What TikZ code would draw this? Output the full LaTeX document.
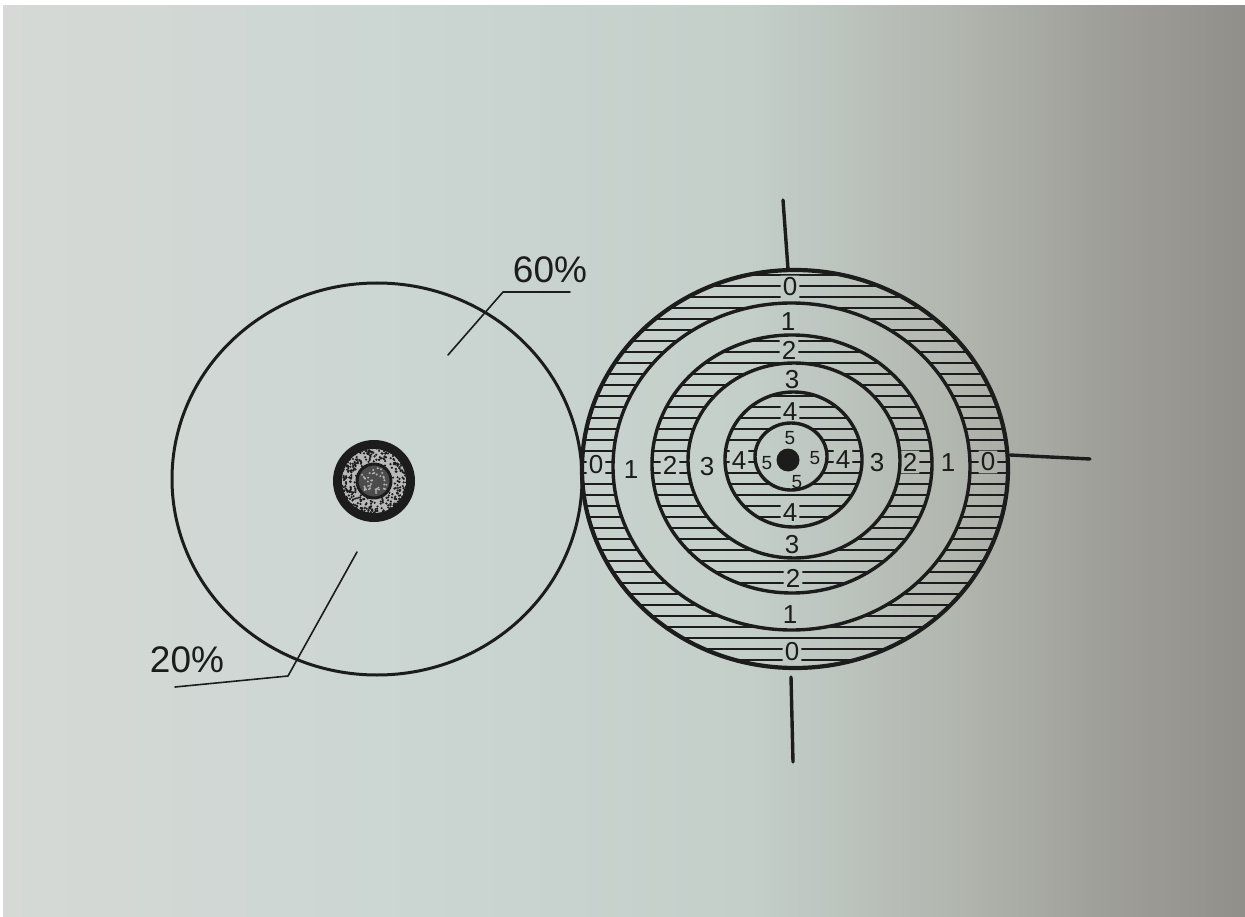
\documentclass[tikz,border=0pt]{standalone}
\usepackage{fontspec}
\setmainfont{Liberation Sans}
\usetikzlibrary{calc}
\definecolor{inkc}{RGB}{28,28,28}
\definecolor{bgA}{RGB}{214,217,213}
\definecolor{bgB}{RGB}{204,214,211}
\definecolor{bgC}{RGB}{196,207,202}
\definecolor{bgD}{RGB}{178,183,175}
\definecolor{bgE}{RGB}{160,160,154}
\definecolor{bgF}{RGB}{145,143,138}
\pgfdeclarehorizontalshading{paper}{100bp}{color(0bp)=(bgA); color(25bp)=(bgA); color(40bp)=(bgB); color(55bp)=(bgC); color(63bp)=(bgD); color(69bp)=(bgE); color(75bp)=(bgF); color(100bp)=(bgF)}
\begin{document}
\begin{tikzpicture}[x=1pt,y=-1pt,line cap=round,line join=round,
  ringline/.style={draw=inkc,line width=3.4pt},
  hatchline/.style={draw=inkc,line width=1.2pt},
  thinline/.style={draw=inkc,line width=1.6pt},
  lbl/.style={text=inkc,font=\fontsize{26}{26}\selectfont,inner sep=2pt},
  lbls/.style={text=inkc,font=\fontsize{19}{19}\selectfont,inner sep=1.5pt},
  pct/.style={text=inkc,font=\fontsize{37}{37}\selectfont,inner sep=0pt}]
\useasboundingbox (0,0) rectangle (1245,917);
\fill[white] (0,0) rectangle (1245,917);
\shade[shading=paper] (3,6) rectangle (1245,917);

% ---- ring labels ----
\node[lbl] (l0t) at (790,287) {0};
\node[lbl] (l0b) at (792,652) {0};
\node[lbl] (l0l) at (596,465) {0};
\node[lbl] (l0r) at (988,462) {0};
\node[lbl] (l1t) at (788,322) {1};
\node[lbl] (l1b) at (790,615) {1};
\node[lbl] (l1l) at (631,470) {1};
\node[lbl] (l1r) at (948,463) {1};
\node[lbl] (l2t) at (789,350) {2};
\node[lbl] (l2b) at (793,578) {2};
\node[lbl] (l2l) at (670,465) {2};
\node[lbl] (l2r) at (910,462) {2};
\node[lbl] (l3t) at (792,380) {3};
\node[lbl] (l3b) at (792,545) {3};
\node[lbl] (l3l) at (707,467) {3};
\node[lbl] (l3r) at (877,463) {3};
\node[lbl] (l4t) at (790,412) {4};
\node[lbl] (l4b) at (790,513) {4};
\node[lbl] (l4l) at (739,461) {4};
\node[lbl] (l4r) at (843,460) {4};
\node[lbls] (l5t) at (790,438) {5};
\node[lbls] (l5b) at (797,482) {5};
\node[lbls] (l5l) at (767,463) {5};
\node[lbls] (l5r) at (815,458) {5};

% ---- hatching of rings 0, 2, 4 ----
\begin{scope}[even odd rule]
\clip (795,469) ellipse (213 and 199) (791.5,466.5) ellipse (178.5 and 163.5)
  (l0t.south west) rectangle (l0t.north east) (l0b.south west) rectangle (l0b.north east)
  (l0l.south west) rectangle (l0l.north east) (l0r.south west) rectangle (l0r.north east);
\foreach \yy in {264,275,...,680} \draw[hatchline] (570,\yy) -- (1020,\yy);
\end{scope}
\begin{scope}[even odd rule]
\clip (792,464) ellipse (140 and 129) (794,460.5) ellipse (106 and 97.5)
  (l2t.south west) rectangle (l2t.north east) (l2b.south west) rectangle (l2b.north east)
  (l2l.south west) rectangle (l2l.north east) (l2r.south west) rectangle (l2r.north east);
\foreach \yy in {264,275,...,680} \draw[hatchline] (570,\yy) -- (1020,\yy);
\end{scope}
\begin{scope}[even odd rule]
\clip (793.5,459.5) ellipse (68.5 and 67.5) (791,456.5) ellipse (36 and 33.5)
  (l4t.south west) rectangle (l4t.north east) (l4b.south west) rectangle (l4b.north east)
  (l4l.south west) rectangle (l4l.north east) (l4r.south west) rectangle (l4r.north east);
\foreach \yy in {264,275,...,680} \draw[hatchline] (570,\yy) -- (1020,\yy);
\end{scope}

% ---- target circles ----
\draw[ringline,line width=4.2pt] (795,469) ellipse (213 and 199);
\draw[ringline] (791.5,466.5) ellipse (178.5 and 163.5);
\draw[ringline] (792,464) ellipse (140 and 129);
\draw[ringline] (794,460.5) ellipse (106 and 97.5);
\draw[ringline] (793.5,459.5) ellipse (68.5 and 67.5);
\draw[ringline] (791,456.5) ellipse (36 and 33.5);
\fill[inkc] (788,460) circle (11.5);

% ---- cross lines ----
\coordinate (vt1) at (783,200);
\coordinate (vt2) at (788,269);
\coordinate (vb1) at (791,677);
\coordinate (vb2) at (793,762);
\coordinate (hr1) at (1010,455);
\coordinate (hr2) at (1090,459);
\draw[ringline] (vt1) -- (vt2);
\draw[ringline] (vb1) -- (vb2);
\draw[ringline] (hr1) -- (hr2);

% ---- left circle ----
\draw[ringline,line width=3pt] (377,479) ellipse (205 and 196);
\fill[inkc] (374,481) circle (41);
\fill[gray!55] (374,481) circle (32);
\pgfmathsetseed{7}
\foreach \i in {1,...,420}{
  \pgfmathsetmacro\ang{360*rnd}
  \pgfmathsetmacro\rad{17+18*sqrt(rnd)}
  \fill[inkc] ($(374,481)+(\ang:\rad)$) circle (1.2);
}
\draw[inkc,line width=3pt,fill=black!70] (374,481) circle (17);
\foreach \i in {1,...,40}{
  \pgfmathsetmacro\ang{360*rnd}
  \pgfmathsetmacro\rad{14*sqrt(rnd)}
  \fill[gray!60] ($(374,481)+(\ang:\rad)$) circle (1.1);
}

% ---- percentage labels ----
\node[pct] (p60) at (550,270) {60\%};
\node[pct] (p20) at (187,660) {20\%};
\coordinate (a60) at (570,292);
\coordinate (b60) at (503,292);
\coordinate (c60) at (448,355);
\coordinate (a20) at (175,687);
\coordinate (b20) at (288,676);
\coordinate (c20) at (357,552);
\draw[thinline] (a60) -- (b60) -- (c60);
\draw[thinline] (a20) -- (b20) -- (c20);
\end{tikzpicture}
\end{document}
